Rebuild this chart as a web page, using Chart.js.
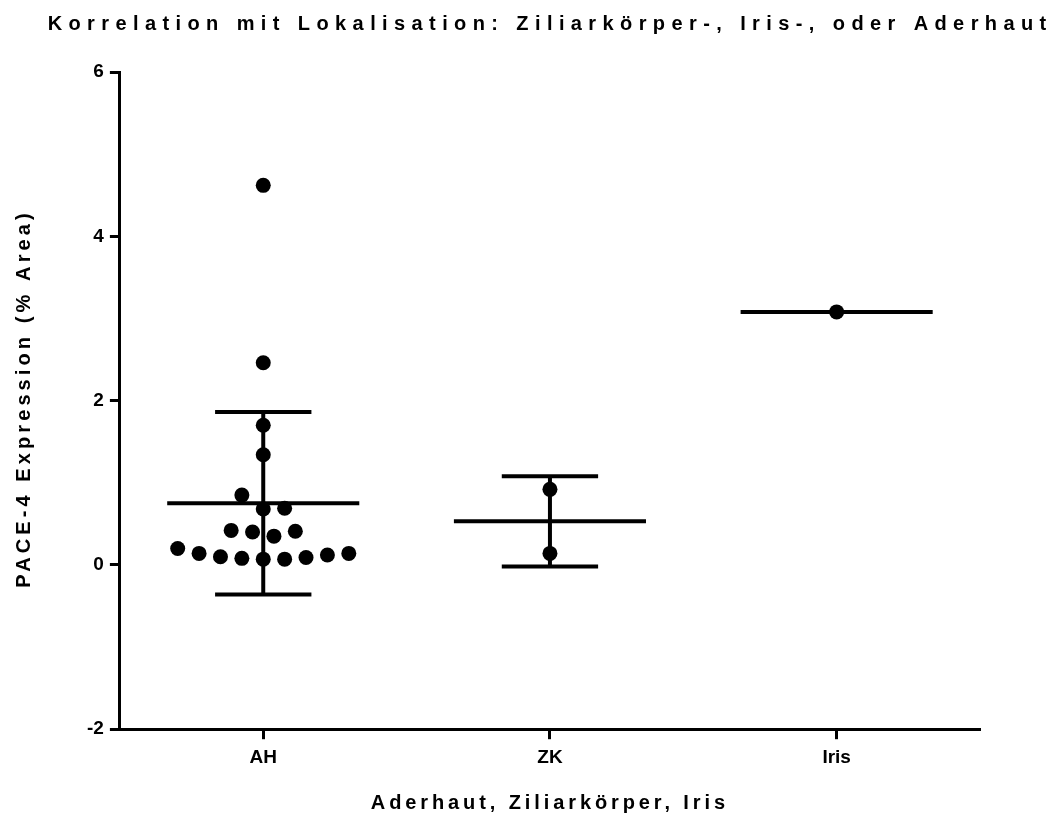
<!DOCTYPE html>
<html>
<head>
<meta charset="utf-8">
<title>PACE-4 Expression nach Lokalisation</title>
<script src="https://cdn.jsdelivr.net/npm/chart.js@4.4.1/dist/chart.umd.min.js"></script>
<style>
  html, body { margin: 0; background: #fff; }
  canvas { display: block; }
</style>
</head>
<body>
<canvas id="chart" width="1057" height="816"></canvas>
<script>
// Werte (% Area)
const categories = ['AH', 'ZK', 'Iris'];
const ahValues = [0.20, 0.14, 0.10, 0.08, 0.07, 0.07, 0.09, 0.12, 0.14,
                  0.42, 0.40, 0.35, 0.41,
                  0.85, 0.68, 0.69,
                  1.34, 1.70, 2.46, 4.62];
const zkValues = [0.92, 0.14];
const irisValues = [3.08];
const groupMeans = [0.75, 0.53, 3.08];
const groupSD = [1.11, 0.55, 0];
const yTicks = [-2, 0, 2, 4, 6];

const titleText = 'Korrelation mit Lokalisation: Ziliarkörper-, Iris-, oder Aderhaut';
const xTitleText = 'Aderhaut, Ziliarkörper, Iris';
const yTitleText = 'PACE-4 Expression (% Area)';

// Streudiagramm: Punkte in Zeilen gruppieren und symmetrisch verteilen
const BIN = 0.29, STEP = 0.0746;
function swarm(values, xi) {
  const bins = {};
  values.forEach(v => { const b = Math.floor(v / BIN); (bins[b] = bins[b] || []).push(v); });
  const pts = [];
  Object.values(bins).forEach(row => {
    row.forEach((v, i) => pts.push({ x: xi + (i - (row.length - 1) / 2) * STEP, y: v }));
  });
  return pts;
}

const lineStyle = { type: 'line', showLine: true, borderColor: '#000', borderWidth: 4, pointRadius: 0, fill: false, borderCapStyle: 'butt' };
const datasets = [];
groupMeans.forEach((m, i) => {
  datasets.push({ ...lineStyle, data: [{ x: i - 0.335, y: m }, { x: i + 0.335, y: m }] });
  const sd = groupSD[i];
  if (sd) {
    datasets.push({ ...lineStyle, data: [{ x: i, y: m - sd }, { x: i, y: m + sd }] });
    datasets.push({ ...lineStyle, data: [{ x: i - 0.168, y: m + sd }, { x: i + 0.168, y: m + sd }] });
    datasets.push({ ...lineStyle, data: [{ x: i - 0.168, y: m - sd }, { x: i + 0.168, y: m - sd }] });
  }
});
[ahValues, zkValues, irisValues].forEach((vals, i) => {
  datasets.push({ type: 'scatter', data: swarm(vals, i), backgroundColor: '#000', borderColor: '#000', pointRadius: 7.5, pointHoverRadius: 7.5, borderWidth: 0 });
});

// Titel mit Sperrschrift, wie in der Vorlage
const spacedTitles = {
  id: 'spacedTitles',
  afterDraw(chart) {
    const { ctx, chartArea: a } = chart;
    const cx = (a.left + a.right) / 2;
    const draw = (text, x, y, spacing, rot) => {
      ctx.save();
      ctx.translate(x, y);
      if (rot) ctx.rotate(rot);
      ctx.font = 'bold 20px "Liberation Sans", Arial, sans-serif';
      ctx.letterSpacing = spacing + 'px';
      ctx.textAlign = 'center';
      ctx.textBaseline = 'middle';
      ctx.fillStyle = '#000';
      ctx.fillText(text, spacing / 2, 0);
      ctx.restore();
    };
    draw(titleText, cx - 3, a.top - 48, 6.4, 0);
    draw(xTitleText, cx - 2, a.bottom + 74, 3.9, 0);
    draw(yTitleText, 24, (a.top + a.bottom) / 2, 4.1, -Math.PI / 2);
  }
};

const tickFont = { family: '"Liberation Sans", Arial, sans-serif', size: 19, weight: 'bold' };
new Chart(document.getElementById('chart'), {
  type: 'scatter',
  data: { datasets },
  options: {
    responsive: false,
    animation: false,
    layout: { padding: { top: 72, left: 81, right: 77, bottom: 40 } },
    plugins: { legend: { display: false }, tooltip: { enabled: false } },
    scales: {
      x: {
        type: 'linear', min: -0.5, max: 2.5,
        afterBuildTicks: s => { s.ticks = categories.map((c, i) => ({ value: i })); },
        ticks: { color: '#000', font: tickFont, padding: 7, callback: v => categories[v] },
        grid: { drawOnChartArea: false, drawTicks: true, tickLength: 10, tickWidth: 3, color: '#000' },
        border: { display: true, color: '#000', width: 3 }
      },
      y: {
        min: -2, max: 6,
        afterBuildTicks: s => { s.ticks = yTicks.map(v => ({ value: v })); },
        ticks: { color: '#000', font: tickFont, padding: 6 },
        grid: { drawOnChartArea: false, drawTicks: true, tickLength: 10, tickWidth: 3, color: '#000' },
        border: { display: true, color: '#000', width: 3 }
      }
    }
  },
  plugins: [spacedTitles]
});
</script>
</body>
</html>
